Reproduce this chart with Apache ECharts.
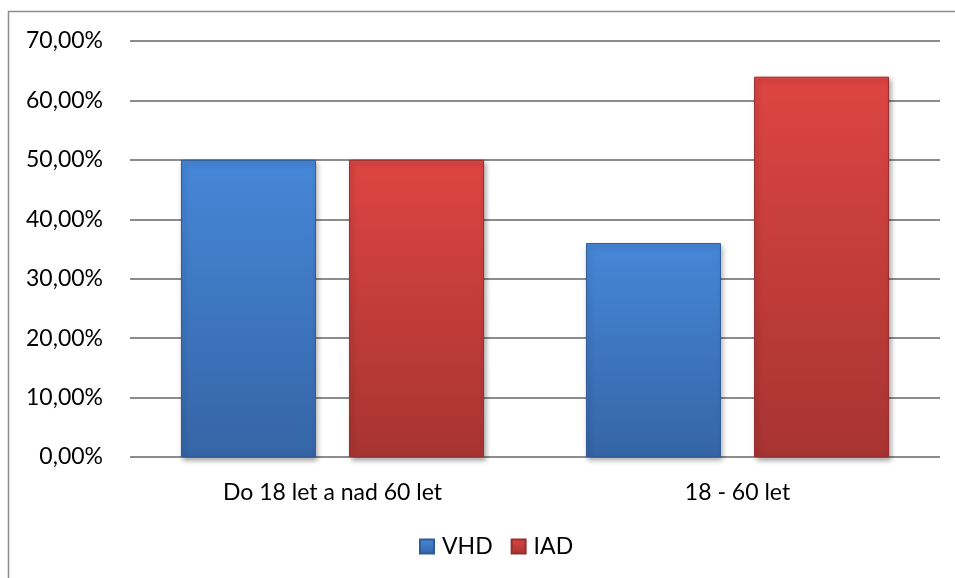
<!DOCTYPE html>
<html>
<head>
<meta charset="utf-8">
<script src="https://cdn.jsdelivr.net/npm/echarts@6/dist/echarts.min.js"></script>
<style>
  html, body { margin: 0; padding: 0; background: #fff; }
  #chart { width: 955px; height: 578px; }
</style>
</head>
<body>
<div id="chart"></div>
<script>
// Age groups and shares (percent) per procedure
const categories = ['Do 18 let a nad 60 let', '18 - 60 let'];
const seriesNames = ['VHD', 'IAD'];
const vhdValues = [50, 36];
const iadValues = [50, 64];
const yTicks = { min: 0, max: 70, interval: 10 };

const FONT = 'Lato, "Open Sans", sans-serif';
const FONT_SIZE = 23;

function grad(top, bottom) {
  return new echarts.graphic.LinearGradient(0, 0, 0, 1, [
    { offset: 0, color: top },
    { offset: 1, color: bottom }
  ]);
}

const blueFill = grad('#4687d8', '#3565a6');
const redFill = grad('#dd4542', '#a73432');

const chart = echarts.init(document.getElementById('chart'), null, { renderer: 'canvas' });

function barSeries(name, data, fill, edge) {
  return {
    name: name,
    type: 'bar',
    data: data,
    barWidth: 135,
    barGap: '24.5%',
    itemStyle: {
      color: fill,
      borderColor: edge,
      borderWidth: 1,
      shadowColor: 'rgba(0,0,0,0.35)',
      shadowBlur: 5,
      shadowOffsetX: 2,
      shadowOffsetY: 3
    }
  };
}

chart.setOption({
  animation: false,
  backgroundColor: '#fff',
  graphic: [{
    type: 'rect',
    shape: { x: 8.5, y: 11.5, width: 1000, height: 1000 },
    style: { fill: 'none', stroke: '#8c8c8c', lineWidth: 1.5 },
    silent: true,
    z: 100
  }],
  grid: { left: 130, right: 15, top: 41, bottom: 121, containLabel: false },
  legend: {
    data: seriesNames,
    bottom: 15,
    left: 414,
    itemWidth: 14,
    itemHeight: 14,
    itemGap: 18,
    icon: 'rect',
    textStyle: { fontFamily: FONT, fontSize: FONT_SIZE, color: '#000', padding: [0, 0, 0, 3] }
  },
  xAxis: {
    type: 'category',
    data: categories,
    axisLine: { show: false },
    axisTick: { show: false },
    axisLabel: { fontFamily: FONT, fontSize: FONT_SIZE, color: '#000', margin: 24 }
  },
  yAxis: {
    type: 'value',
    min: yTicks.min,
    max: yTicks.max,
    interval: yTicks.interval,
    axisLine: { show: false },
    axisTick: { show: false },
    splitLine: { lineStyle: { color: '#8c8c8c', width: 2 } },
    axisLabel: {
      fontFamily: FONT, fontSize: FONT_SIZE, color: '#000', margin: 27,
      formatter: v => v.toFixed(2).replace('.', ',') + '%'
    }
  },
  series: [
    barSeries(seriesNames[0], vhdValues, blueFill, '#2f5b96'),
    barSeries(seriesNames[1], iadValues, redFill, '#962f2d')
  ]
});
</script>
</body>
</html>
